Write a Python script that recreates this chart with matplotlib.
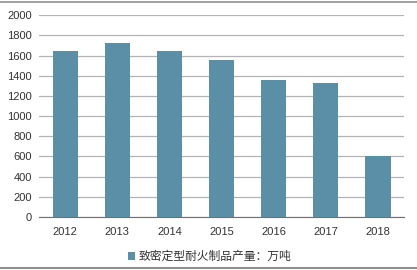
import matplotlib
matplotlib.use("Agg")
import matplotlib.pyplot as plt
from matplotlib.lines import Line2D

plt.rcParams['font.family'] = ['Noto Sans CJK SC', 'DejaVu Sans']

YEARS = ["2012", "2013", "2014", "2015", "2016", "2017", "2018"]
OUTPUT = [1640, 1728, 1640, 1555, 1357, 1323, 600]
LEGEND_LABEL = "致密定型耐火制品产量：万吨"

BAR_COLOR = "#5b8ea7"
TEXT_COLOR = "#333333"

fig = plt.figure(figsize=(4.17, 2.70), dpi=100)
ax = fig.add_axes([0.0935, 0.196, 0.8755, 0.748])

x = range(len(YEARS))
ax.bar(x, OUTPUT, width=0.48, color=BAR_COLOR, zorder=3, label=LEGEND_LABEL)

ax.set_xlim(-0.5, len(YEARS) - 0.5)
ax.set_ylim(0, 2000)
ax.set_yticks(range(0, 2001, 200))
ax.set_xticks(list(x))
ax.set_xticklabels(YEARS)
for lbl in ax.get_xticklabels() + ax.get_yticklabels():
    lbl.set_family(["Liberation Sans", "DejaVu Sans"])
ax.grid(True, axis="y", color="#b4b4b4", lw=0.9, zorder=0)
for side in ["top", "right", "left"]:
    ax.spines[side].set_visible(False)
ax.spines["bottom"].set_color("#707070")
ax.tick_params(axis="both", length=0, labelsize=8, colors=TEXT_COLOR, pad=5)
ax.tick_params(axis="x", pad=7)

ax.legend(loc="upper center", bbox_to_anchor=(0.468, -0.11), frameon=False,
          fontsize=8.5, handlelength=0.6, handleheight=0.6, handletextpad=0.3,
          labelcolor=TEXT_COLOR)

# frame lines at top and bottom of the image
fig.add_artist(Line2D([0, 1], [0.992, 0.992], color="#909090", lw=1.2,
                      transform=fig.transFigure))
fig.add_artist(Line2D([0, 1], [0.008, 0.008], color="#909090", lw=1.5,
                      transform=fig.transFigure))

fig.savefig("out.png", dpi=100)
